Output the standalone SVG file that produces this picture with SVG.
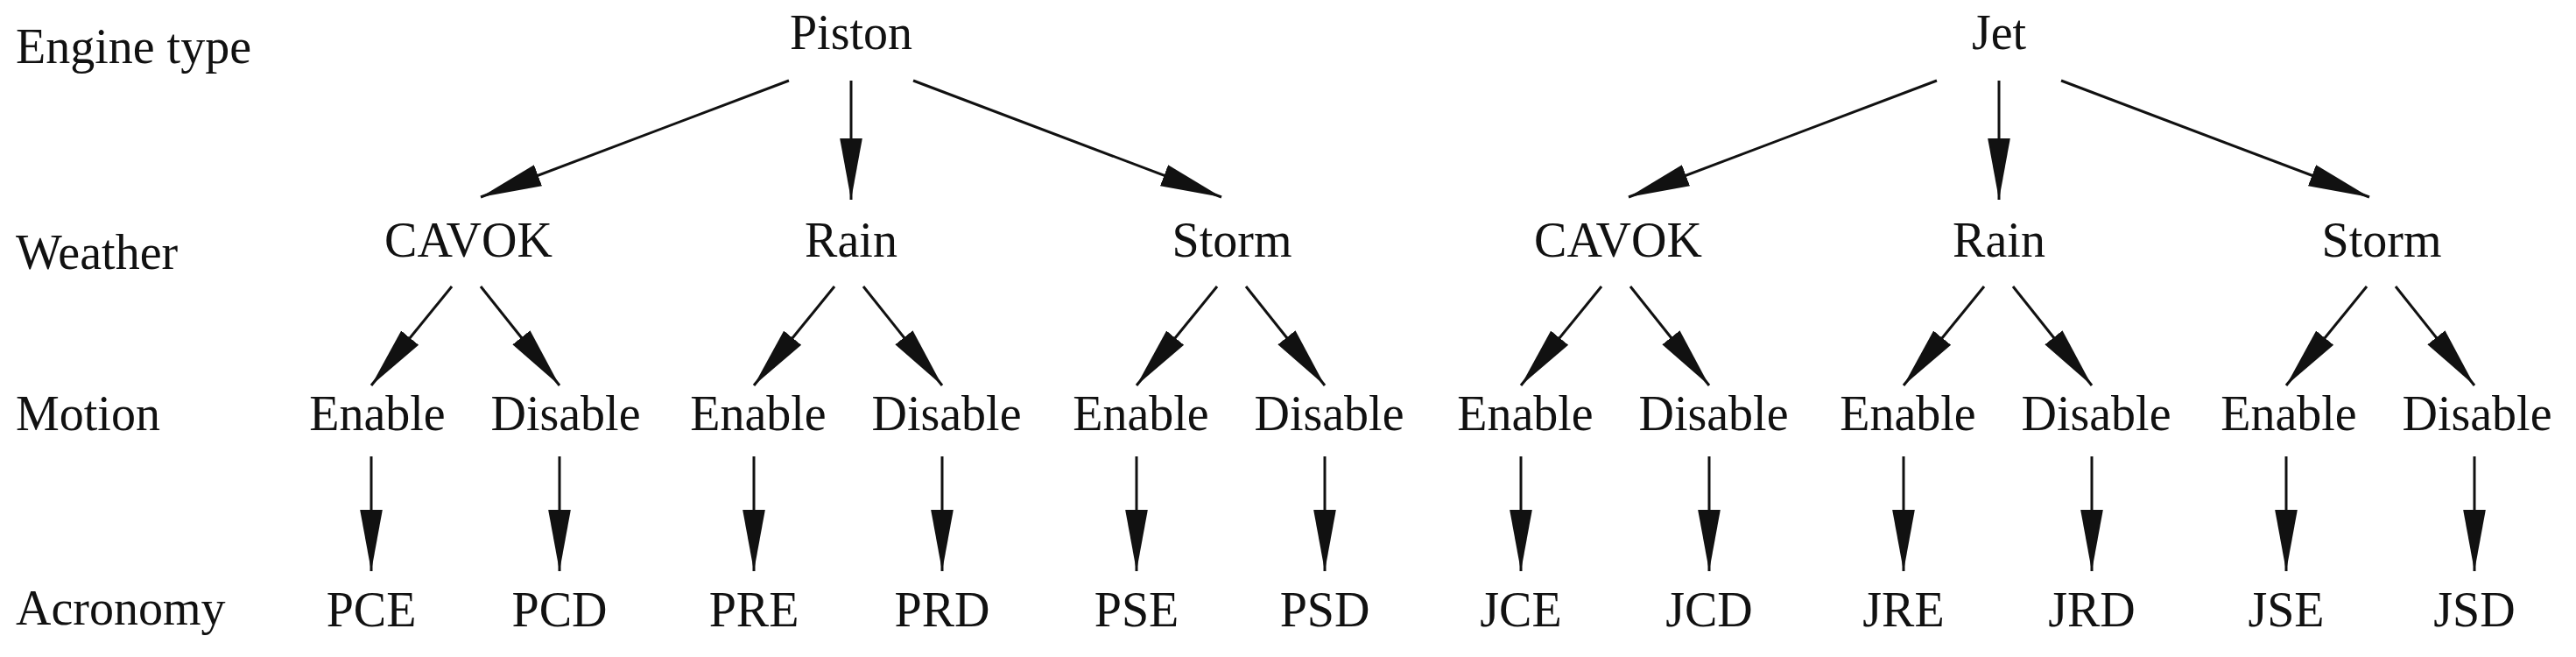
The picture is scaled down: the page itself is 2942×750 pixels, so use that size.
<svg xmlns="http://www.w3.org/2000/svg" width="2942" height="750" viewBox="0 0 2942 750">
<style>
text{font-family:"Liberation Serif","Times New Roman",serif;font-size:56px;fill:#111}
.n text{text-anchor:middle}
.c line{stroke:#111;stroke-width:3;marker-end:url(#a)}
</style>
<defs><marker id="a" markerUnits="userSpaceOnUse" markerWidth="70" markerHeight="30" refX="60" refY="11" orient="auto" viewBox="0 0 60 22"><path d="M0,0L60,11L0,22z" fill="#111"/></marker></defs>
<rect width="2942" height="750" fill="#fff"/>
<g id="labels">
<text x="18" y="72">Engine type</text>
<text x="18" y="307">Weather</text>
<text x="18" y="491">Motion</text>
<text x="18" y="713">Acronomy</text>
</g>
<g class="n">
<g id="piston"><text x="972" y="56">Piston</text></g>
<g id="jet"><text x="2283" y="56">Jet</text></g>
<g id="w1"><text x="535" y="293">CAVOK</text></g>
<g id="w2"><text x="972" y="293">Rain</text></g>
<g id="w3"><text x="1407" y="293">Storm</text></g>
<g id="w4"><text x="1848" y="293">CAVOK</text></g>
<g id="w5"><text x="2283" y="293">Rain</text></g>
<g id="w6"><text x="2720" y="293">Storm</text></g>
<g id="m1"><text x="431" y="491">Enable</text></g>
<g id="m2"><text x="646" y="491">Disable</text></g>
<g id="m3"><text x="866" y="491">Enable</text></g>
<g id="m4"><text x="1081" y="491">Disable</text></g>
<g id="m5"><text x="1303" y="491">Enable</text></g>
<g id="m6"><text x="1518" y="491">Disable</text></g>
<g id="m7"><text x="1742" y="491">Enable</text></g>
<g id="m8"><text x="1957" y="491">Disable</text></g>
<g id="m9"><text x="2179" y="491">Enable</text></g>
<g id="m10"><text x="2394" y="491">Disable</text></g>
<g id="m11"><text x="2614" y="491">Enable</text></g>
<g id="m12"><text x="2829" y="491">Disable</text></g>
<g id="a1"><text x="424" y="715">PCE</text></g>
<g id="a2"><text x="639" y="715">PCD</text></g>
<g id="a3"><text x="861" y="715">PRE</text></g>
<g id="a4"><text x="1076" y="715">PRD</text></g>
<g id="a5"><text x="1298" y="715">PSE</text></g>
<g id="a6"><text x="1513" y="715">PSD</text></g>
<g id="a7"><text x="1737" y="715">JCE</text></g>
<g id="a8"><text x="1952" y="715">JCD</text></g>
<g id="a9"><text x="2174" y="715">JRE</text></g>
<g id="a10"><text x="2389" y="715">JRD</text></g>
<g id="a11"><text x="2611" y="715">JSE</text></g>
<g id="a12"><text x="2826" y="715">JSD</text></g>
</g>
<g class="c" id="connectors">
<line x1="901" y1="92" x2="549" y2="225"/>
<line x1="972" y1="92" x2="972" y2="228"/>
<line x1="1043" y1="92" x2="1395" y2="225"/>
<line x1="2212" y1="92" x2="1860" y2="225"/>
<line x1="2283" y1="92" x2="2283" y2="228"/>
<line x1="2354" y1="92" x2="2706" y2="225"/>
<line x1="516" y1="327" x2="424" y2="440"/><line x1="549" y1="327" x2="639" y2="440"/>
<line x1="953" y1="327" x2="861" y2="440"/><line x1="986" y1="327" x2="1076" y2="440"/>
<line x1="1390" y1="327" x2="1298" y2="440"/><line x1="1423" y1="327" x2="1513" y2="440"/>
<line x1="1829" y1="327" x2="1737" y2="440"/><line x1="1862" y1="327" x2="1952" y2="440"/>
<line x1="2266" y1="327" x2="2174" y2="440"/><line x1="2299" y1="327" x2="2389" y2="440"/>
<line x1="2703" y1="327" x2="2611" y2="440"/><line x1="2736" y1="327" x2="2826" y2="440"/>
<line x1="424" y1="521" x2="424" y2="652"/><line x1="639" y1="521" x2="639" y2="652"/>
<line x1="861" y1="521" x2="861" y2="652"/><line x1="1076" y1="521" x2="1076" y2="652"/>
<line x1="1298" y1="521" x2="1298" y2="652"/><line x1="1513" y1="521" x2="1513" y2="652"/>
<line x1="1737" y1="521" x2="1737" y2="652"/><line x1="1952" y1="521" x2="1952" y2="652"/>
<line x1="2174" y1="521" x2="2174" y2="652"/><line x1="2389" y1="521" x2="2389" y2="652"/>
<line x1="2611" y1="521" x2="2611" y2="652"/><line x1="2826" y1="521" x2="2826" y2="652"/>
</g>
</svg>
